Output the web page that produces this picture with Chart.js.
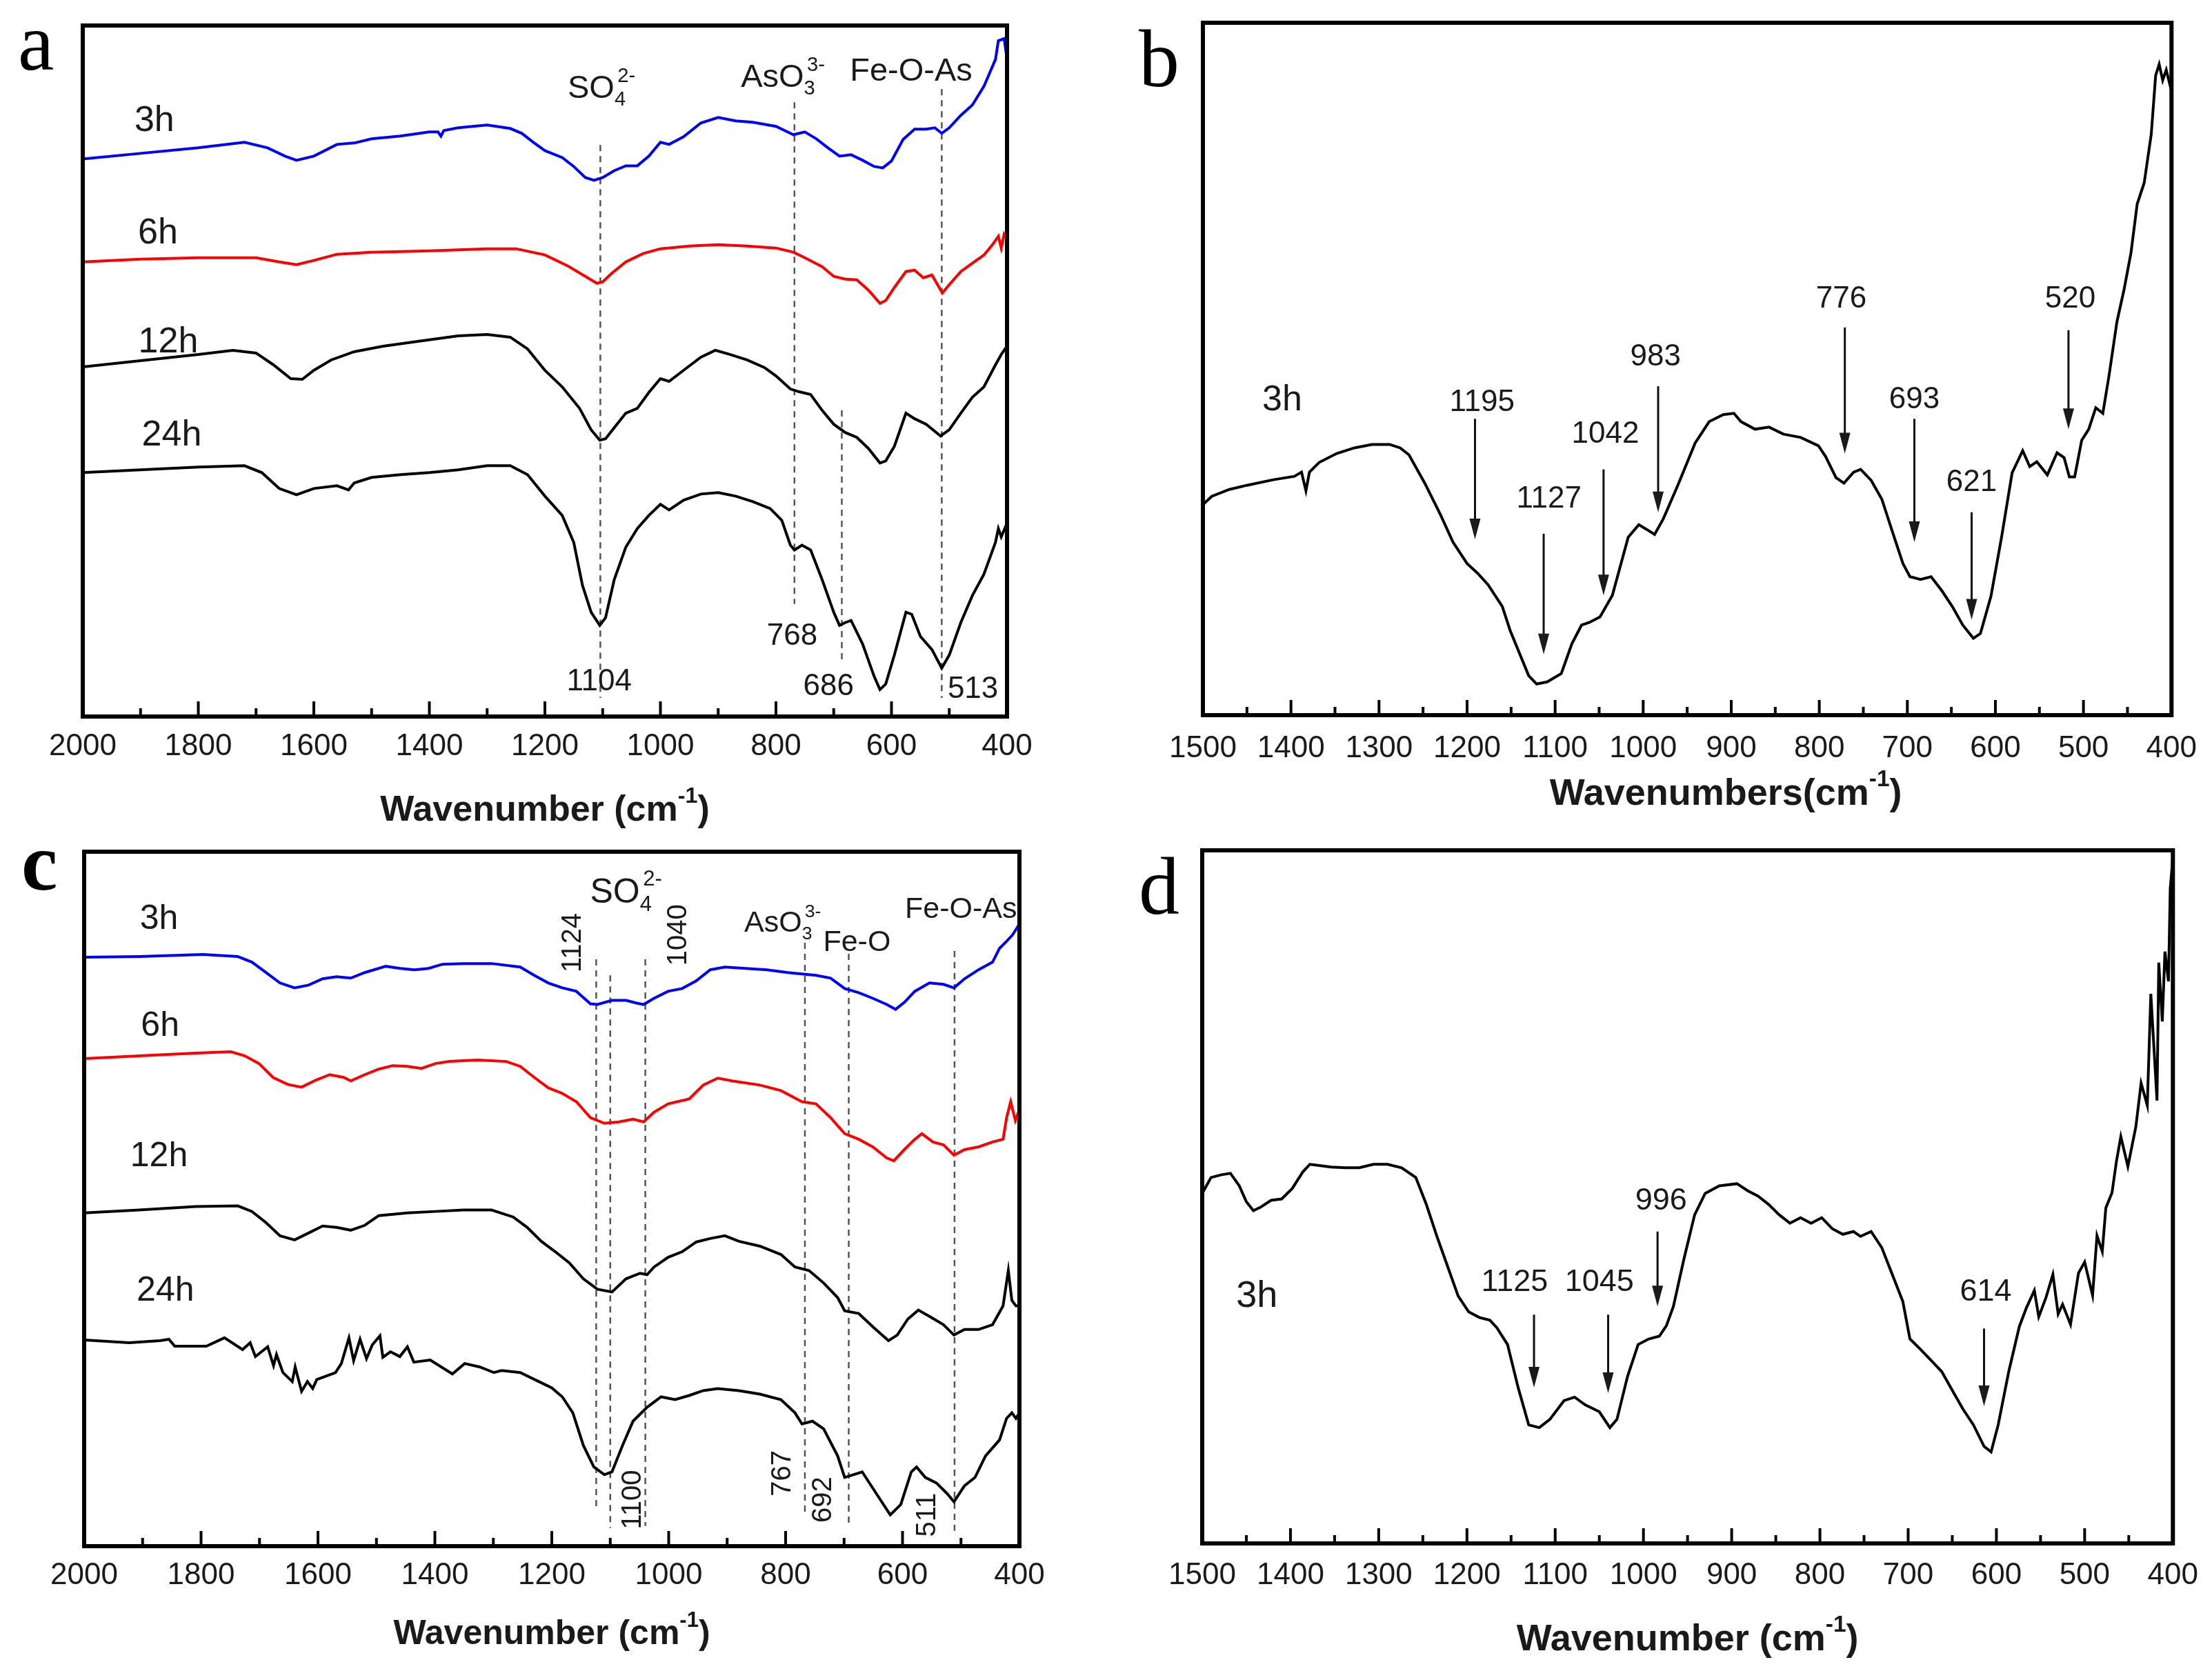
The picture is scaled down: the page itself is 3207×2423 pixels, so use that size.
<!DOCTYPE html>
<html lang="en">
<head>
<meta charset="UTF-8">
<script src="https://cdn.jsdelivr.net/npm/chart.js@4"></script>
<style>
    body { margin: 0; background: #fff; width: 3207px; height: 2423px; position: relative; overflow: hidden; }
    .panel { position: absolute; }
</style>
<title>FTIR spectra</title>
</head>
<body>
<div class="panel" style="left:0;top:0;width:1600px;height:1210px"><canvas id="chart-a"></canvas></div>
<div class="panel" style="left:1600px;top:0;width:1607px;height:1210px"><canvas id="chart-b"></canvas></div>
<div class="panel" style="left:0;top:1210px;width:1600px;height:1213px"><canvas id="chart-c"></canvas></div>
<div class="panel" style="left:1600px;top:1210px;width:1607px;height:1213px"><canvas id="chart-d"></canvas></div>
<script>
// tick labels
const wideTicks = [2000, 1800, 1600, 1400, 1200, 1000, 800, 600, 400];
const narrowTicks = [1500, 1400, 1300, 1200, 1100, 1000, 900, 800, 700, 600, 500, 400];

// ---- panel a: [wavenumber, transmittance (arb., % of plot height)] ----
const a3h = [[2000,80.7],[1900,81.5],[1800,82.3],[1720,83.1],[1680,82.3],[1650,81.1],[1630,80.5],[1600,81.1],[1560,82.8],[1530,83.0],[1500,83.6],[1450,84.0],[1400,84.6],[1385,84.6],[1380,84.0],[1375,84.8],[1350,85.2],[1300,85.6],[1260,85.1],[1240,84.4],[1220,83.1],[1200,81.9],[1170,80.9],[1150,79.6],[1130,78.0],[1115,77.6],[1100,78.0],[1080,79.0],[1060,79.7],[1040,79.7],[1020,81.1],[1000,83.1],[985,82.8],[960,83.9],[930,85.9],[900,86.7],[870,86.2],[840,86.0],[800,85.4],[780,84.6],[770,84.2],[750,84.6],[730,83.6],[710,82.3],[690,81.1],[670,81.3],[650,80.5],[630,79.6],[615,79.4],[600,80.4],[580,83.5],[560,85.0],[540,85.0],[525,85.2],[513,84.4],[500,85.2],[480,87.0],[460,88.5],[440,91.2],[420,95.1],[415,97.8],[405,98.1],[400,95.1]];
const a6h = [[2000,65.8],[1900,66.2],[1800,66.4],[1700,66.4],[1660,65.8],[1630,65.4],[1600,66.0],[1560,66.9],[1500,67.2],[1400,67.4],[1300,67.7],[1250,67.7],[1200,66.8],[1160,65.2],[1130,63.7],[1110,62.7],[1100,62.9],[1085,64.1],[1060,65.8],[1030,67.0],[1000,67.7],[950,68.1],[900,68.3],[850,68.1],[800,67.8],[770,67.2],[750,66.4],[720,65.1],[700,63.7],[680,63.3],[660,63.2],[640,61.7],[620,59.8],[610,60.2],[595,62.1],[575,64.4],[560,64.6],[545,63.5],[530,63.9],[512,61.3],[500,62.5],[480,64.4],[460,65.6],[440,66.8],[425,68.3],[415,69.5],[410,67.8],[405,69.8],[400,69.1]];
const a12h = [[2000,50.6],[1900,51.5],[1800,52.4],[1740,53.0],[1700,52.6],[1670,50.9],[1640,48.9],[1620,48.8],[1600,50.1],[1570,51.6],[1530,52.8],[1480,53.6],[1420,54.3],[1350,55.1],[1300,55.3],[1260,54.9],[1230,53.2],[1200,50.1],[1170,47.7],[1140,44.6],[1120,41.5],[1105,40.0],[1095,40.2],[1080,41.8],[1060,43.9],[1040,44.6],[1020,46.9],[1000,48.9],[985,48.5],[960,50.1],[930,52.0],[905,53.0],[880,52.4],[850,51.6],[820,50.5],[800,49.3],[775,47.4],[760,47.0],[740,46.6],[720,44.3],[700,42.3],[680,41.1],[660,40.4],[640,38.8],[620,36.7],[610,37.0],[595,39.1],[575,43.9],[560,43.1],[540,42.3],[515,40.6],[500,41.5],[480,43.9],[460,46.2],[440,47.7],[420,50.9],[410,52.4],[400,53.6]];
const a24h = [[2000,35.3],[1900,35.7],[1800,36.1],[1720,36.3],[1690,35.3],[1660,33.0],[1630,32.1],[1600,33.0],[1560,33.4],[1540,32.8],[1530,33.8],[1500,34.6],[1450,35.0],[1400,35.3],[1350,35.7],[1300,36.3],[1260,36.3],[1230,35.0],[1200,31.9],[1170,29.1],[1150,25.2],[1135,19.0],[1120,15.1],[1105,13.2],[1095,14.3],[1080,19.8],[1060,24.5],[1040,27.2],[1020,29.1],[1000,30.7],[985,29.9],[960,31.3],[930,32.2],[900,32.4],[870,31.9],[840,31.1],[810,30.1],[790,28.4],[775,24.8],[768,24.1],[755,24.8],[740,24.1],[720,19.8],[700,15.1],[690,13.2],[680,13.6],[670,13.9],[650,10.5],[630,5.8],[620,3.9],[610,4.7],[595,8.9],[575,15.1],[565,14.8],[550,11.6],[530,9.7],[513,7.0],[500,8.9],[480,13.6],[460,17.5],[440,20.6],[420,25.2],[415,27.2],[410,26.0],[405,27.0],[400,28.0]];

// ---- panel b ----
const b3h = [[1500,30.4],[1490,31.6],[1470,32.6],[1450,33.2],[1420,34.0],[1396,34.5],[1388,35.1],[1383,32.4],[1379,35.1],[1368,36.5],[1348,37.8],[1328,38.6],[1308,39.1],[1288,39.1],[1276,38.6],[1266,37.6],[1248,33.5],[1230,28.9],[1216,25.0],[1200,21.9],[1188,20.5],[1176,18.8],[1160,15.7],[1151,12.2],[1140,8.8],[1130,5.7],[1121,4.5],[1109,4.8],[1093,6.0],[1081,10.3],[1070,13.0],[1061,13.4],[1049,14.2],[1035,17.3],[1017,25.7],[1005,27.5],[997,26.9],[987,26.1],[977,28.4],[961,33.1],[941,39.3],[925,42.4],[909,43.4],[897,43.6],[889,42.4],[873,41.3],[857,41.6],[841,40.6],[821,40.1],[801,38.9],[793,37.4],[781,34.3],[772,33.5],[761,35.1],[753,35.5],[741,33.9],[729,31.2],[717,26.5],[705,21.9],[697,20.0],[685,19.6],[673,20.0],[661,18.0],[649,15.7],[637,13.0],[625,11.1],[617,11.8],[605,17.2],[593,25.7],[581,35.0],[569,38.2],[561,35.9],[553,36.6],[541,34.7],[530,37.9],[522,37.2],[516,34.4],[510,34.4],[502,39.7],[494,41.3],[486,44.4],[478,43.6],[471,49.0],[462,56.8],[454,61.4],[446,66.8],[439,73.8],[431,76.9],[423,83.9],[418,92.4],[414,94.0],[410,91.7],[406,93.2],[400,90.1]];

// ---- panel c ----
const c3h = [[2000,84.8],[1906,84.9],[1797,85.2],[1737,84.9],[1713,84.1],[1689,82.6],[1665,81.1],[1640,80.4],[1616,80.8],[1592,81.7],[1568,82.0],[1544,81.8],[1520,82.6],[1484,83.5],[1459,83.2],[1435,83.0],[1411,83.2],[1387,83.8],[1351,83.9],[1303,83.9],[1254,83.4],[1230,82.2],[1206,81.1],[1182,80.4],[1158,79.9],[1134,78.1],[1122,78.0],[1097,78.6],[1073,78.6],[1055,78.2],[1043,78.0],[1025,78.9],[1001,79.9],[977,80.3],[953,81.4],[929,83.0],[904,83.4],[868,83.2],[832,83.0],[796,82.6],[772,82.4],[748,82.2],[723,81.8],[699,80.3],[675,79.7],[651,78.9],[627,78.0],[612,77.3],[597,78.3],[579,79.9],[554,81.1],[530,80.9],[512,80.4],[494,81.7],[470,83.0],[446,84.1],[434,86.1],[422,87.1],[412,88.0],[400,89.6]];
const c6h = [[2000,70.2],[1906,70.6],[1809,71.0],[1749,71.2],[1725,70.6],[1701,69.5],[1677,67.5],[1652,66.5],[1628,66.1],[1604,67.1],[1580,67.9],[1556,67.5],[1544,67.0],[1520,67.9],[1496,68.7],[1472,69.2],[1447,69.1],[1423,68.8],[1399,69.5],[1375,69.8],[1327,70.0],[1278,69.8],[1254,69.1],[1230,67.5],[1206,66.0],[1182,65.2],[1158,64.0],[1134,61.7],[1110,60.9],[1085,61.1],[1061,61.5],[1043,61.1],[1025,62.5],[1001,63.7],[965,64.4],[941,66.4],[916,67.4],[892,67.0],[844,66.4],[808,65.6],[772,64.0],[748,63.7],[723,61.7],[699,59.4],[675,58.6],[651,57.5],[627,55.9],[615,55.5],[597,57.1],[579,58.6],[567,59.4],[548,58.2],[530,57.8],[512,56.3],[494,57.1],[470,57.5],[446,58.2],[428,58.6],[422,61.7],[415,64.0],[407,61.3],[400,62.9]];
const c12h = [[2000,48.0],[1906,48.4],[1809,48.9],[1737,49.0],[1713,48.2],[1689,46.6],[1665,44.7],[1640,44.1],[1616,45.1],[1592,46.1],[1568,45.9],[1544,45.5],[1520,46.2],[1496,47.6],[1447,48.0],[1399,48.2],[1351,48.4],[1303,48.4],[1266,47.4],[1242,45.9],[1218,43.9],[1194,42.4],[1170,40.8],[1146,38.5],[1122,37.0],[1097,36.6],[1073,38.5],[1049,39.3],[1037,39.1],[1025,40.2],[1001,41.6],[977,42.4],[953,43.8],[929,44.3],[904,44.7],[880,43.9],[844,43.2],[808,42.0],[784,40.2],[760,39.7],[735,37.9],[711,35.8],[699,33.9],[675,33.5],[651,31.6],[624,29.6],[609,30.4],[591,32.7],[573,34.0],[554,33.1],[530,31.9],[512,30.4],[494,31.2],[470,31.2],[446,31.9],[428,34.6],[419,39.7],[413,35.4],[406,34.6],[400,34.6]];
const c24h = [[2000,29.7],[1923,29.3],[1870,29.6],[1855,29.8],[1845,28.8],[1791,28.8],[1760,30.0],[1729,28.3],[1716,29.3],[1707,27.3],[1686,28.7],[1676,26.0],[1671,27.6],[1660,25.0],[1644,23.7],[1639,25.8],[1628,22.3],[1618,23.7],[1609,22.7],[1602,24.0],[1570,25.0],[1560,26.3],[1547,30.0],[1539,26.7],[1528,29.8],[1517,27.0],[1507,29.0],[1494,30.3],[1489,27.2],[1476,28.0],[1460,27.3],[1447,28.7],[1436,26.5],[1408,26.8],[1370,24.8],[1349,26.3],[1323,25.8],[1299,25.0],[1286,25.3],[1254,25.0],[1222,23.7],[1200,22.8],[1182,21.5],[1164,19.2],[1146,14.5],[1128,11.4],[1110,10.3],[1097,10.7],[1079,14.5],[1061,18.0],[1037,20.0],[1013,21.5],[989,21.1],[965,21.7],[941,22.4],[916,22.7],[880,22.4],[844,21.9],[808,21.1],[784,19.2],[772,17.6],[754,18.0],[735,16.9],[711,13.0],[699,9.9],[669,10.7],[645,7.6],[621,4.5],[603,6.0],[585,10.7],[576,11.4],[561,9.9],[542,9.1],[524,7.6],[512,6.4],[494,8.7],[476,9.9],[458,13.0],[434,15.3],[422,18.4],[413,19.2],[406,18.4],[400,19.2]];

// ---- panel d ----
const d3h = [[1500,50.5],[1490,52.8],[1478,53.2],[1468,53.4],[1458,51.6],[1450,49.3],[1442,48.0],[1434,48.5],[1422,49.5],[1410,49.7],[1398,51.2],[1386,53.6],[1378,54.7],[1366,54.5],[1354,54.3],[1338,54.2],[1322,54.2],[1306,54.7],[1290,54.7],[1274,54.2],[1258,52.8],[1246,48.9],[1234,44.3],[1222,40.0],[1210,35.7],[1198,33.4],[1186,32.6],[1174,32.2],[1166,31.1],[1154,28.7],[1142,22.5],[1130,17.1],[1118,16.7],[1106,17.9],[1090,20.6],[1078,21.1],[1066,20.0],[1050,19.0],[1038,16.7],[1030,17.9],[1018,24.1],[1006,28.7],[994,29.5],[982,29.9],[974,31.4],[966,34.2],[954,41.1],[942,47.4],[930,50.5],[914,51.6],[894,51.9],[882,50.9],[870,50.1],[858,48.9],[846,47.4],[834,46.2],[822,47.0],[810,46.2],[798,47.0],[786,45.4],[774,44.6],[762,45.0],[754,44.3],[742,45.0],[730,42.7],[718,38.8],[706,34.9],[698,29.5],[686,28.0],[674,26.4],[662,24.8],[650,22.1],[638,19.4],[626,17.1],[614,14.0],[606,13.2],[598,17.1],[586,24.8],[574,31.3],[566,34.0],[557,36.5],[552,32.7],[544,35.4],[536,38.8],[530,33.1],[525,34.5],[516,31.6],[507,39.0],[500,40.6],[491,35.8],[486,44.4],[480,42.1],[476,48.4],[469,50.6],[464,55.1],[459,58.7],[451,54.4],[442,60.1],[436,66.4],[429,63.2],[425,79.3],[418,63.9],[416,83.8],[412,75.3],[409,85.4],[405,81.1],[403,94.5],[400,99.0]];

// annotations: [text, wavenumber, value]
const aSampleLabels = [['3h',1876,86.6],['6h',1870,70.3],['12h',1852,54.6],['24h',1846,41.1]];
const aBandLabels = [['SO{_4}{^2-}',1102,91.2],['AsO{_3}{^3-}',788,92.8],['Fe-O-As',566,93.7]];
const aPeakLabels = [['1104',1106,5.4],['768',772,12.0],['686',709,4.7],['513',459,4.3]];
const aGuides = [[1104,82.7,2.7],[768,88.9,16.3],[686,44.3,8.2],[513,90.8,2.7]];

const bSampleLabels = [['3h',1410,45.9]];
// [text, label wavenumber, label value, arrow wavenumber, arrow start, arrow tip]
const bArrows = [['1195',1183,45.5,1191,42.8,25.4],['1127',1107,31.6,1113,26.2,8.8],['1042',1043,40.9,1045,35.5,17.3],['983',986,52.1,983,47.5,29.3],['776',775,60.4,771,56.0,37.8],['693',692,45.9,692,42.8,25.0],['621',627,33.9,627,29.3,13.8],['520',515,60.4,517,55.6,41.3]];

const cSampleLabels = [['3h',1872,90.7],['6h',1870,75.3],['12h',1872,56.5],['24h',1861,37.1]];
const cBandLabels = [['SO{_4}{^2-}',1073,94.4],['AsO{_3}{^3-}',805,90.0],['Fe-O',678,87.2],['Fe-O-As',500,92.0]];
const cPeakLabels = [['1124',1164,86.9],['1040',983,88.0],['1100',1061,6.7],['767',805,10.5],['692',735,6.7],['511',557,4.5]];
const cGuides = [[1124,84.5,5.3],[1100,82.2,2.6],[1040,84.5,2.9],[767,86.9,4.9],[692,85.3,2.9],[511,85.7,2.2]];

const dSampleLabels = [['3h',1438,36.1]];
const dArrows = [['1125',1146,38.0,1124,33.0,22.5],['1045',1050,38.0,1040,33.0,21.7],['996',980,49.8,984,45.0,34.2],['614',612,36.6,614,31.0,19.8]];

const SANS = '"Liberation Sans", Arial, sans-serif';
const INK = '#1a1a1a';

function parseRich(str) {
    const parts = [];
    const re = /\{([_^])([^}]*)\}|([^{]+)/g;
    let m;
    while ((m = re.exec(str))) {
        if (m[3]) parts.push({t: m[3], k: 'n'});
        else parts.push({t: m[2], k: m[1] === '_' ? 'sub' : 'sup'});
    }
    return parts;
}

// text with stacked sub/superscripts, centred on (cx, cy)
function drawRich(ctx, str, cx, cy, size, weight) {
    const parts = parseRich(str);
    const small = size * 0.62;
    const font = s => `${weight || 'normal'} ${s}px ${SANS}`;
    const items = [];
    let w = 0;
    for (let i = 0; i < parts.length; i++) {
        const p = parts[i];
        if (p.k === 'n') {
            ctx.font = font(size);
            items.push({...p, x: w, s: size});
            w += ctx.measureText(p.t).width;
        } else {
            ctx.font = font(small);
            let pw = ctx.measureText(p.t).width;
            items.push({...p, x: w, s: small});
            const nx = parts[i + 1];
            if (nx && nx.k !== 'n' && nx.k !== p.k) {
                items.push({...nx, x: w + small * 0.15, s: small});
                pw = Math.max(pw, ctx.measureText(nx.t).width + small * 0.15);
                i++;
            }
            w += pw;
        }
    }
    const x0 = cx - w / 2;
    const base = cy + size * 0.36;
    ctx.textAlign = 'left';
    ctx.textBaseline = 'alphabetic';
    items.forEach(it => {
        ctx.font = font(it.s);
        let dy = 0;
        if (it.k === 'sup') dy = -size * 0.5;
        if (it.k === 'sub') dy = size * 0.24;
        ctx.fillText(it.t, x0 + it.x, base + dy);
    });
}

const decor = {
    id: 'decor',
    beforeDatasetsDraw(chart, args, o) {
        const {ctx, scales: {x, y}} = chart;
        ctx.save();
        ctx.setLineDash([9, 7]);
        ctx.lineWidth = 2.5;
        ctx.strokeStyle = '#555';
        (o.guides || []).forEach(([w, v1, v2]) => {
            const px = x.getPixelForValue(w);
            ctx.beginPath();
            ctx.moveTo(px, y.getPixelForValue(v1));
            ctx.lineTo(px, y.getPixelForValue(v2));
            ctx.stroke();
        });
        ctx.restore();
    },
    afterDraw(chart, args, o) {
        const {ctx, chartArea: ca, scales: {x, y}} = chart;
        ctx.save();

        // inward tick marks + frame
        ctx.strokeStyle = '#000';
        ctx.lineWidth = 4;
        x.ticks.forEach(t => {
            const px = x.getPixelForValue(t.value);
            const len = o.labelled.includes(t.value) ? 22 : 12;
            ctx.beginPath();
            ctx.moveTo(px, ca.bottom);
            ctx.lineTo(px, ca.bottom - len);
            ctx.stroke();
        });
        ctx.lineWidth = 6;
        ctx.strokeRect(ca.left, ca.top, ca.width, ca.height);

        ctx.fillStyle = INK;
        const px = w => x.getPixelForValue(w);
        const py = v => y.getPixelForValue(v);
        const sizeOf = (s, i) => Array.isArray(s) ? s[i] : s;

        (o.samples || []).forEach(([t, w, v]) => drawRich(ctx, t, px(w), py(v), o.sampleSize));
        (o.bands || []).forEach(([t, w, v], i) => drawRich(ctx, t, px(w), py(v), sizeOf(o.bandSize, i)));
        (o.peaks || []).forEach(([t, w, v]) => {
            if (o.rotatePeaks) {
                ctx.save();
                ctx.translate(px(w), py(v));
                ctx.rotate(-Math.PI / 2);
                ctx.font = `${o.peakSize}px ${SANS}`;
                ctx.textAlign = 'center';
                ctx.textBaseline = 'middle';
                ctx.fillText(t, 0, 0);
                ctx.restore();
            } else {
                drawRich(ctx, t, px(w), py(v), o.peakSize);
            }
        });
        (o.arrows || []).forEach(([t, wl, vl, wa, v1, v2]) => {
            drawRich(ctx, t, px(wl), py(vl), o.peakSize);
            const ax = px(wa), y1 = py(v1), y2 = py(v2);
            ctx.strokeStyle = '#111';
            ctx.lineWidth = 3;
            ctx.beginPath();
            ctx.moveTo(ax, y1);
            ctx.lineTo(ax, y2 - 26);
            ctx.stroke();
            ctx.beginPath();
            ctx.moveTo(ax - 8, y2 - 30);
            ctx.lineTo(ax + 8, y2 - 30);
            ctx.lineTo(ax, y2);
            ctx.closePath();
            ctx.fill();
        });

        // axis title
        drawRich(ctx, o.title, (ca.left + ca.right) / 2 + (o.titleDx || 0), ca.bottom + o.titleDy, o.titleSize, 'bold');

        // panel letter
        ctx.font = `${o.letterBold ? 'bold ' : ''}118px "Liberation Serif", "Times New Roman", serif`;
        ctx.textAlign = 'left';
        ctx.textBaseline = 'alphabetic';
        ctx.fillStyle = '#000';
        ctx.fillText(o.letter, o.letterX, o.letterY);
        ctx.restore();
    }
};

function makeChart(id, p) {
    return new Chart(document.getElementById(id), {
        type: 'line',
        data: {
            datasets: p.series.map(s => ({
                data: s.pts.map(([x, y]) => ({x, y})),
                borderColor: s.color,
                borderWidth: 4,
                pointRadius: 0,
                tension: 0,
                fill: false
            }))
        },
        options: {
            animation: false,
            responsive: true,
            maintainAspectRatio: false,
            layout: {padding: p.pad},
            plugins: {
                legend: {display: false},
                tooltip: {enabled: false},
                decor: p.decor
            },
            scales: {
                x: {
                    type: 'linear',
                    reverse: true,
                    min: p.min,
                    max: p.max,
                    border: {display: false},
                    grid: {display: false, drawTicks: false},
                    ticks: {
                        stepSize: p.step,
                        autoSkip: false,
                        maxRotation: 0,
                        padding: p.tickPad,
                        color: INK,
                        font: {size: 44, family: SANS},
                        callback: v => p.decor.labelled.includes(v) ? String(v) : ''
                    },
                    afterFit: s => { s.height = p.axisH; }
                },
                y: {display: false, min: 0, max: 100}
            }
        },
        plugins: [decor]
    });
}

makeChart('chart-a', {
    min: 400, max: 2000, step: 100, tickPad: 17, axisH: 171,
    pad: {left: 120, top: 37, right: 140, bottom: 0},
    series: [
        {pts: a3h, color: '#0000ff'},
        {pts: a6h, color: '#ff0000'},
        {pts: a12h, color: '#000'},
        {pts: a24h, color: '#000'}
    ],
    decor: {
        labelled: wideTicks, guides: aGuides,
        samples: aSampleLabels, sampleSize: 52,
        bands: aBandLabels, bandSize: 47,
        peaks: aPeakLabels, peakSize: 44,
        title: 'Wavenumber (cm{^-1})', titleSize: 52, titleDy: 132,
        letter: 'a', letterX: 26, letterY: 101
    }
});

makeChart('chart-b', {
    min: 400, max: 1500, step: 50, tickPad: 22, axisH: 173,
    pad: {left: 144, top: 33, right: 52, bottom: 0},
    series: [{pts: b3h, color: '#000'}],
    decor: {
        labelled: narrowTicks,
        samples: bSampleLabels, sampleSize: 52,
        arrows: bArrows, peakSize: 44,
        title: 'Wavenumbers(cm{^-1})', titleSize: 54, titleDy: 111, titleDx: 56,
        letter: 'b', letterX: 51, letterY: 125
    }
});

makeChart('chart-c', {
    min: 400, max: 2000, step: 100, tickPad: 16, axisH: 181,
    pad: {left: 122, top: 25, right: 122, bottom: 0},
    series: [
        {pts: c3h, color: '#0000ff'},
        {pts: c6h, color: '#ff0000'},
        {pts: c12h, color: '#000'},
        {pts: c24h, color: '#000'}
    ],
    decor: {
        labelled: wideTicks, guides: cGuides,
        samples: cSampleLabels, sampleSize: 50,
        bands: cBandLabels, bandSize: [50, 43, 43, 43],
        peaks: cPeakLabels, peakSize: 40, rotatePeaks: true,
        title: 'Wavenumber (cm{^-1})', titleSize: 50, titleDy: 124,
        letter: 'c', letterBold: true, letterX: 31, letterY: 80
    }
});

makeChart('chart-d', {
    min: 400, max: 1500, step: 50, tickPad: 20, axisH: 185,
    pad: {left: 143, top: 23, right: 52, bottom: 0},
    series: [{pts: d3h, color: '#000'}],
    decor: {
        labelled: narrowTicks,
        samples: dSampleLabels, sampleSize: 54,
        arrows: dArrows, peakSize: 45,
        title: 'Wavenumber (cm{^-1})', titleSize: 54, titleDy: 136,
        letter: 'd', letterX: 51, letterY: 115
    }
});
</script>
</body>
</html>
